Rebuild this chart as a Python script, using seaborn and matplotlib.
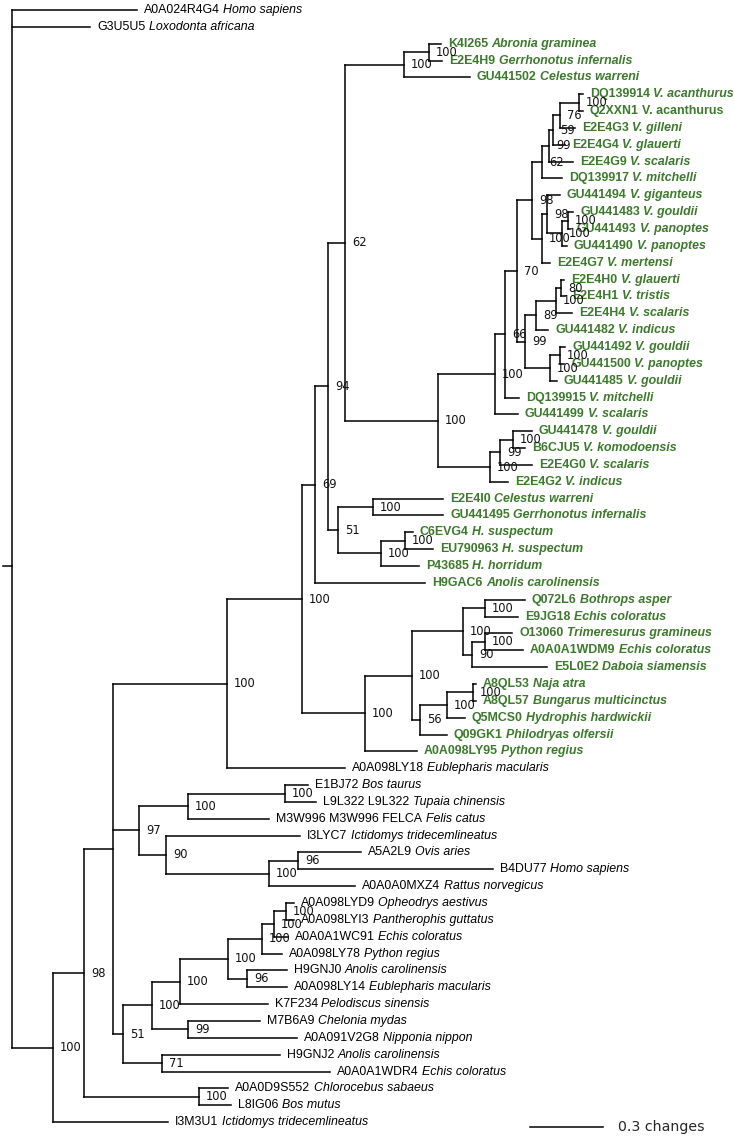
import numpy as np
import pandas as pd
import seaborn as sns
import matplotlib.pyplot as plt

# ---- leaves (top to bottom) ----
leaf_ids = ["A0A024R4G4", "G3U5U5", "K4I265", "E2E4H9", "GU441502", "DQ139914", "Q2XXN1",
            "E2E4G3", "E2E4G4", "E2E4G9", "DQ139917", "GU441494", "GU441483", "GU441493",
            "GU441490", "E2E4G7", "E2E4H0", "E2E4H1", "E2E4H4", "GU441482", "GU441492",
            "GU441500", "GU441485", "DQ139915", "GU441499", "GU441478", "B6CJU5", "E2E4G0",
            "E2E4G2", "E2E4I0", "GU441495", "C6EVG4", "EU790963", "P43685", "H9GAC6",
            "Q072L6", "E9JG18", "O13060", "A0A0A1WDM9", "E5L0E2", "A8QL53", "A8QL57",
            "Q5MCS0", "Q09GK1", "A0A098LY95", "A0A098LY18", "E1BJ72", "L9L322 L9L322",
            "M3W996 M3W996 FELCA", "I3LYC7", "A5A2L9", "B4DU77", "A0A0A0MXZ4", "A0A098LYD9",
            "A0A098LYI3", "A0A0A1WC91", "A0A098LY78", "H9GNJ0", "A0A098LY14", "K7F234",
            "M7B6A9", "A0A091V2G8", "H9GNJ2", "A0A0A1WDR4", "A0A0D9S552", "L8IG06", "I3M3U1"]
leaf_species = ["Homo sapiens", "Loxodonta africana", "Abronia graminea", "Gerrhonotus infernalis",
                "Celestus warreni", "V. acanthurus", "V. acanthurus", "V. gilleni", "V. glauerti",
                "V. scalaris", "V. mitchelli", "V. giganteus", "V. gouldii", "V. panoptes",
                "V. panoptes", "V. mertensi", "V. glauerti", "V. tristis", "V. scalaris",
                "V. indicus", "V. gouldii", "V. panoptes", "V. gouldii", "V. mitchelli",
                "V. scalaris", "V. gouldii", "V. komodoensis", "V. scalaris", "V. indicus",
                "Celestus warreni", "Gerrhonotus infernalis", "H. suspectum", "H. suspectum",
                "H. horridum", "Anolis carolinensis", "Bothrops asper", "Echis coloratus",
                "Trimeresurus gramineus", "Echis coloratus", "Daboia siamensis", "Naja atra",
                "Bungarus multicinctus", "Hydrophis hardwickii", "Philodryas olfersii",
                "Python regius", "Eublepharis macularis", "Bos taurus", "Tupaia chinensis",
                "Felis catus", "Ictidomys tridecemlineatus", "Ovis aries", "Homo sapiens",
                "Rattus norvegicus", "Opheodrys aestivus", "Pantherophis guttatus",
                "Echis coloratus", "Python regius", "Anolis carolinensis", "Eublepharis macularis",
                "Pelodiscus sinensis", "Chelonia mydas", "Nipponia nippon", "Anolis carolinensis",
                "Echis coloratus", "Chlorocebus sabaeus", "Bos mutus", "Ictidomys tridecemlineatus"]
# tip position (changes from root)
leaf_tip = [0.514, 0.321, 1.765, 1.770, 1.885, 2.350, 2.350, 2.317, 2.276, 2.309, 2.263, 2.255,
            2.309, 2.296, 2.284, 2.214, 2.272, 2.276, 2.305, 2.206, 2.276, 2.272, 2.243, 2.086,
            2.082, 2.140, 2.111, 2.140, 2.041, 1.774, 1.774, 1.650, 1.733, 1.675, 1.700, 2.111,
            2.082, 2.058, 2.103, 2.202, 1.909, 1.909, 1.864, 1.790, 1.667, 1.370, 1.218, 1.251,
            1.058, 1.185, 1.436, 1.979, 1.412, 1.160, 1.160, 1.136, 1.111, 1.132, 1.132, 1.053,
            1.021, 1.173, 1.103, 1.309, 0.889, 0.901, 0.642]
leaf_parent = ["root", "root", "nabr", "nabr", "nang", "nac", "nac", "n76", "n59", "n99v", "n62v",
               "n98b", "ne100", "ne100", "nd100", "n100c", "n80", "n80", "ng100", "n89", "nh100",
               "nh100", "ngou", "n66", "nv1", "nk100", "nk100", "n99k", "nv2", "ncel", "ncel",
               "nc6", "nc6", "nhel", "n69", "nbe", "nbe", "nu100", "nu100", "n90s", "nnaja",
               "nnaja", "nelap", "n56", "nsnake", "n4", "nbt", "nbt", "nmam", "n90m", "n96", "n96",
               "nrat", "nz", "nz", "ny", "nx", "n96b", "n96b", "ns100", "n99t", "n99t", "n71",
               "n71", "nbos", "nbos", "n1"]
# toxicofera sequences shown in green
green_ids = leaf_ids[2:45]
upright_species = ["Q2XXN1"]

# ---- internal nodes ----
node_names = ["root", "n1", "n2", "n3", "nbos", "n4", "n97", "n51", "n5", "n69", "nsnake", "n94",
              "n62", "n51b", "nang", "nabr", "nvar", "nv1", "nv2", "n66", "n70", "n98a", "n99b",
              "n62v", "n99v", "n59", "n76", "nac", "n100c", "n98b", "nd100", "ne100", "n89",
              "ng100", "n80", "ngou", "nh100", "n99k", "nk100", "ncel", "nhel", "nc6", "ncol",
              "nviper", "nbe", "n90s", "nu100", "n56", "nelap", "nnaja", "nmam", "nbt", "n90m",
              "nrat", "n96", "nr100", "ns100", "n228", "nx", "ny", "nz", "n96b", "n99t", "n71"]
node_parent = [None, "root", "n1", "n2", "n2", "n3", "n3", "n3", "n4", "n5", "n5", "n69",
               "n94", "n94", "n62", "nang", "n62", "nvar", "nvar", "nv1", "n66", "n70", "n70",
               "n98a", "n62v", "n99v", "n59", "n76", "n98a", "n100c", "n98b", "nd100", "n99b",
               "n89", "ng100", "n99b", "ngou", "nv2", "n99k", "n51b", "n51b", "nhel", "nsnake",
               "ncol", "nviper", "nviper", "n90s", "ncol", "n56", "nelap", "n97", "nmam", "n97",
               "n90m", "nrat", "n51", "nr100", "ns100", "n228", "nx", "ny", "n228", "nr100", "n51"]
node_depth = [0.0, 0.169, 0.296, 0.416, 0.770, 0.885, 0.523, 0.457, 1.193, 1.247, 1.453, 1.300,
              1.370, 1.342, 1.613, 1.716, 1.753, 1.988, 1.967, 2.029, 2.078, 2.140, 2.111,
              2.181, 2.210, 2.226, 2.255, 2.333, 2.181, 2.202, 2.263, 2.288, 2.156, 2.239,
              2.259, 2.214, 2.255, 2.008, 2.062, 1.486, 1.519, 1.617, 1.646, 1.856, 1.947,
              1.893, 1.947, 1.679, 1.790, 1.897, 0.724, 1.123, 0.634, 1.058, 1.177, 0.576,
              0.691, 0.889, 1.029, 1.078, 1.128, 0.967, 0.724, 0.617]
node_support = [None, 100, 98, None, 100, 100, 97, 51, 100, 69, 100, 94, 62, 51, 100, 100, 100,
                100, 100, 66, 70, 98, 99, 62, 99, 59, 76, 100, 100, 98, 100, 100, 89, 100, 80,
                100, 100, 99, 100, 100, 100, 100, 100, 100, 100, 90, 100, 56, 100, 100, 100, 100,
                90, 100, 96, 100, 100, 100, 100, 100, 100, 96, 99, 71]

scale_len = 0.3
scale_start = 2.132

GREEN = "#3c7a2c"
W, H = 734, 1139
PX_X = 243.0     # px per change
ROOT_PX = 12.0
ROW0, ROW = 10.0, 16.85

# ---- layout ----
leaves = pd.DataFrame({"id": leaf_ids, "species": leaf_species, "x": leaf_tip, "parent": leaf_parent})
leaves["y"] = np.arange(len(leaves), dtype=float)
nodes = pd.DataFrame({"name": node_names, "parent": node_parent, "x": node_depth,
                      "support": node_support}).set_index("name")

node_y = {}
def get_y(name):
    if name in node_y:
        return node_y[name]
    ys = list(leaves.loc[leaves["parent"] == name, "y"])
    ys += [get_y(c) for c in nodes.index[nodes["parent"] == name]]
    node_y[name] = float(np.mean(ys))
    return node_y[name]

for n in nodes.index:
    get_y(n)
nodes["y"] = [node_y[n] for n in nodes.index]

segs = []
k = 0
for name, row in nodes.iterrows():
    kids = [(r.x, r.y) for r in leaves[leaves["parent"] == name].itertuples()]
    kids += [(nodes.at[c, "x"], nodes.at[c, "y"]) for c in nodes.index[nodes["parent"] == name]]
    ys = [ky for _, ky in kids]
    segs += [(k, row.x, min(ys)), (k, row.x, max(ys))]
    k += 1
    for kx, ky in kids:
        segs += [(k, row.x, ky), (k, kx, ky)]
        k += 1
# root stem
root_stem_y = (leaves["y"].iloc[0] + leaves["y"].iloc[-1]) / 2
segs += [(k, -9 / PX_X, root_stem_y), (k, 0.0, root_stem_y)]
k += 1
scale_y = (1127 - ROW0) / ROW
segs += [(k, scale_start, scale_y), (k, scale_start + scale_len, scale_y)]
seg_df = pd.DataFrame(segs, columns=["seg", "x", "y"])

# ---- plot ----
sns.set_theme(style="white")
plt.rcParams["font.family"] = ["Liberation Sans", "DejaVu Sans"]

fig = plt.figure(figsize=(W / 100, H / 100), dpi=100)
ax = fig.add_axes([0, 0, 1, 1])
sns.lineplot(data=seg_df, x="x", y="y", units="seg", estimator=None, sort=False,
             color="black", linewidth=1.1, solid_capstyle="projecting", ax=ax)
ax.set_xlim(-ROOT_PX / PX_X, (W - ROOT_PX) / PX_X)
ax.set_ylim((H - ROW0) / ROW, -ROW0 / ROW)
ax.axis("off")

fs = 8.9
for r in leaves.itertuples():
    green = r.id in green_ids
    col = GREEN if green else "black"
    wt = "bold" if green else "normal"
    t = ax.annotate(r.id, xy=(r.x, r.y), xytext=(5, 0), textcoords="offset points",
                    va="center", ha="left", fontsize=fs, color=col, fontweight=wt)
    ax.annotate(r.species, xy=(1, 0), xycoords=t, xytext=(2.5, 0), textcoords="offset points",
                va="bottom", ha="left", fontsize=fs, color=col, fontweight=wt,
                style="normal" if r.id in upright_species else "italic")

for name, row in nodes.iterrows():
    if row.support is None or pd.isna(row.support):
        continue
    ax.annotate(str(int(row.support)), xy=(row.x, row.y), xytext=(5, 0),
                textcoords="offset points", va="center", ha="left", fontsize=8.3,
                family="DejaVu Sans", color="#111111")

ax.annotate(f"{scale_len} changes", xy=(scale_start + scale_len, scale_y), xytext=(11, 0),
            textcoords="offset points", va="center", ha="left", fontsize=10.2,
            family="DejaVu Sans")

fig.savefig("out.png", dpi=100)
